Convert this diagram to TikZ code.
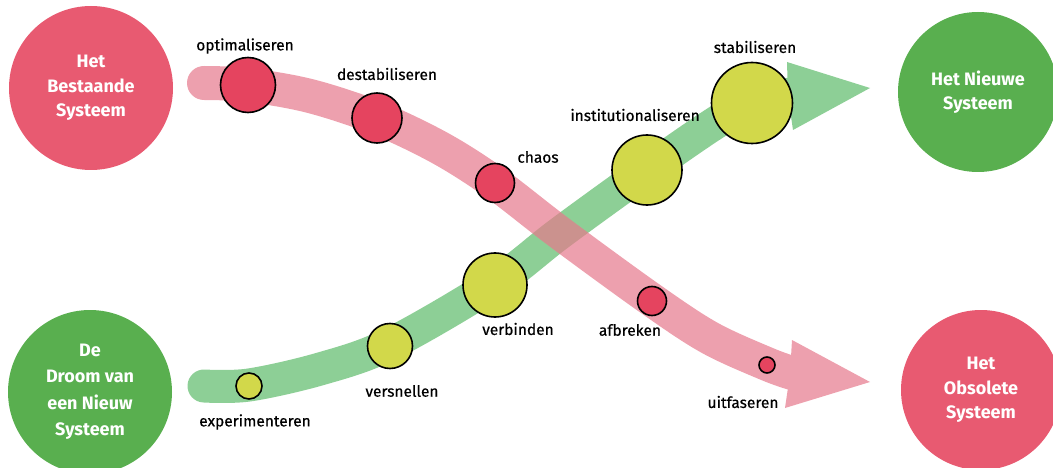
\documentclass[tikz,border=0pt]{standalone}
\usepackage{fontspec}
\setmainfont{Fira Sans}
\newfontfamily\lblfont{Fira Sans}[FakeBold=0.5]
\definecolor{sysred}{HTML}{E85A71}
\definecolor{sysgreen}{HTML}{59AF4F}
\definecolor{bandred}{HTML}{E6788B}
\definecolor{bandgreen}{HTML}{5DBB6A}
\definecolor{dotred}{HTML}{E5445F}
\definecolor{dotyellow}{HTML}{D2D84A}
\tikzset{
  sysnode/.style={circle, minimum size=#1, inner sep=0pt, align=center, text=white,
    font=\fontsize{18}{24.5}\selectfont\bfseries},
  redsys/.style={sysnode=#1, fill=sysred},
  greensys/.style={sysnode=#1, fill=sysgreen},
  reddot/.style={circle, draw=black, line width=1.6pt, fill=dotred, minimum size=#1, inner sep=0pt},
  yeldot/.style={circle, draw=black, line width=1.6pt, fill=dotyellow, minimum size=#1, inner sep=0pt},
  lbl/.style={font=\lblfont\fontsize{15.5}{18}\selectfont, text=black, inner sep=0pt},
}
\begin{document}
\begin{tikzpicture}[x=1pt,y=-1pt]
\useasboundingbox (0,0) rectangle (1053,468);
% big circles
\node[redsys=164pt] (bestaande) at (91,88) {Het\\Bestaande\\Systeem};
\node[greensys=160pt] (nieuwe) at (978,92) {Het Nieuwe\\Systeem};
\node[greensys=164pt, font=\fontsize{18}{26.5}\selectfont\bfseries] (droom) at (90,392) {De\\Droom van\\een Nieuw\\Systeem};
\node[redsys=160pt] (obsolete) at (981,390) {Het\\Obsolete\\Systeem};
% green band
\begin{scope}[transparency group, opacity=0.7]
\draw[bandgreen, line width=33pt, line cap=round]
  plot[smooth, tension=0.55] coordinates {(204,386) (249,385) (320,369) (390,344) (495,283) (560,233) (647,170) (720,120) (760,100) (792,94)};
\fill[bandgreen] (787,62) -- (870,88) -- (793,130) -- (788,96) -- cycle;
\end{scope}
% red band
\begin{scope}[transparency group, opacity=0.7]
\draw[bandred, line width=34pt, line cap=round]
  plot[smooth, tension=0.55] coordinates {(204,83) (248,85) (310,96) (377,118) (440,148) (495,183) (560,233) (652,300) (710,338) (767,364) (792,373)};
\fill[bandred] (792,340) -- (870,382) -- (785,408) -- (790,374) -- cycle;
\end{scope}
% red dots
\node[reddot=55pt] (opt) at (248,85) {};
\node[reddot=50pt] (destab) at (377,118) {};
\node[reddot=39pt] (chaos) at (495,183) {};
\node[reddot=29pt] (afbr) at (652,301) {};
\node[reddot=16pt] (uitf) at (767,365) {};
% yellow dots
\node[yeldot=26pt] (exp) at (249,386) {};
\node[yeldot=45pt] (versn) at (390,346) {};
\node[yeldot=64pt] (verb) at (495,285) {};
\node[yeldot=70pt] (inst) at (647,170) {};
\node[yeldot=81pt] (stab) at (752,103) {};
% labels
\node[lbl] (lopt) at (245,46) {optimaliseren};
\node[lbl] (ldestab) at (387,74) {destabiliseren};
\node[lbl] (lchaos) at (538,157) {chaos};
\node[lbl] (linst) at (635,115) {institutionaliseren};
\node[lbl] (lstab) at (755,47) {stabiliseren};
\node[lbl] (lverb) at (518,329) {verbinden};
\node[lbl] (lafbr) at (630,330) {afbreken};
\node[lbl] (lversn) at (402,391) {versnellen};
\node[lbl] (lexp) at (255,422) {experimenteren};
\node[lbl] (luitf) at (743,402) {uitfaseren};
\end{tikzpicture}
\end{document}
